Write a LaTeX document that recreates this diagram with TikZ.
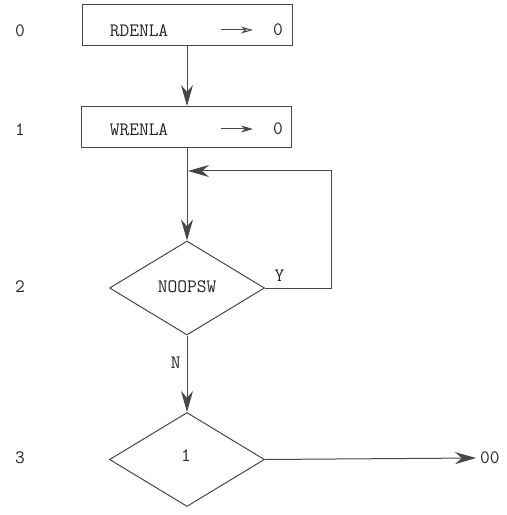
\documentclass[tikz,border=0pt]{standalone}
\usepackage{fontspec}
\usetikzlibrary{arrows.meta,shapes.geometric}
\begin{document}
\begin{tikzpicture}[x=1bp,y=-1bp,
  font=\ttfamily\fontsize{19}{22}\selectfont,
  ln/.style={draw=black!72, line width=1bp},
  box/.style={ln, rectangle, minimum width=210bp, minimum height=41bp, inner sep=0pt},
  dec/.style={ln, diamond, aspect=1.65, minimum width=155bp, minimum height=94bp, inner sep=0pt},
  lbl/.style={inner sep=0pt, text=black!85},
  big/.style={-{Stealth[length=21bp,width=12bp]}},
  small/.style={-{Stealth[length=12bp,width=7bp]}},
  smallopen/.style={-{Stealth[length=12bp,width=7bp,open]}}]
\useasboundingbox (0,0) rectangle (507,515);

% row numbers
\node[lbl] (r0) at (20,31) {0};
\node[lbl] (r1) at (20,130) {1};
\node[lbl] (r2) at (20,287) {2};
\node[lbl] (r3) at (20,458) {3};

% boxes
\node[box] (b0) at (187,25.5) {};
\node[box] (b1) at (186.5,127) {};
\node[lbl] (t0) at (139,31) {RDENLA};
\node[lbl] (t1) at (139,129.5) {WRENLA};
\node[lbl] (z0) at (278,30) {0};
\node[lbl] (z1) at (278,129) {0};
\draw[ln, smallopen] ([xshift=-52bp]z0.west) -- ([xshift=-20bp]z0.west);
\draw[ln, small] ([xshift=-52bp]z1.west) -- ([xshift=-20bp]z1.west);

% decisions
\node[dec] (d1) at (187,288) {};
\node[lbl] at (187,287) {NOOPSW};
\node[dec] (d2) at (187,459.5) {};
\node[lbl] at (186,456) {1};

% connectors
\draw[ln, big] (b0.south -| 187,0) -- (b1.north -| 187,0);
\draw[ln, big] (b1.south -| 187,0) -- (d1.north);
\coordinate (lp) at (331,171);
\coordinate (jn) at (188,171);
\draw[ln, big] (d1.east) -- node[lbl, above=6bp, pos=0.22] {Y} (d1.east -| lp) -- (lp) -- (jn);
\draw[ln, big] (d1.south) -- node[lbl, left=6bp, pos=0.35] {N} (d2.north);
\node[lbl, anchor=west] (out) at (480,458) {00};
\draw[ln, big] (d2.east) -- ([xshift=-4bp]out.west);
\end{tikzpicture}
\end{document}
